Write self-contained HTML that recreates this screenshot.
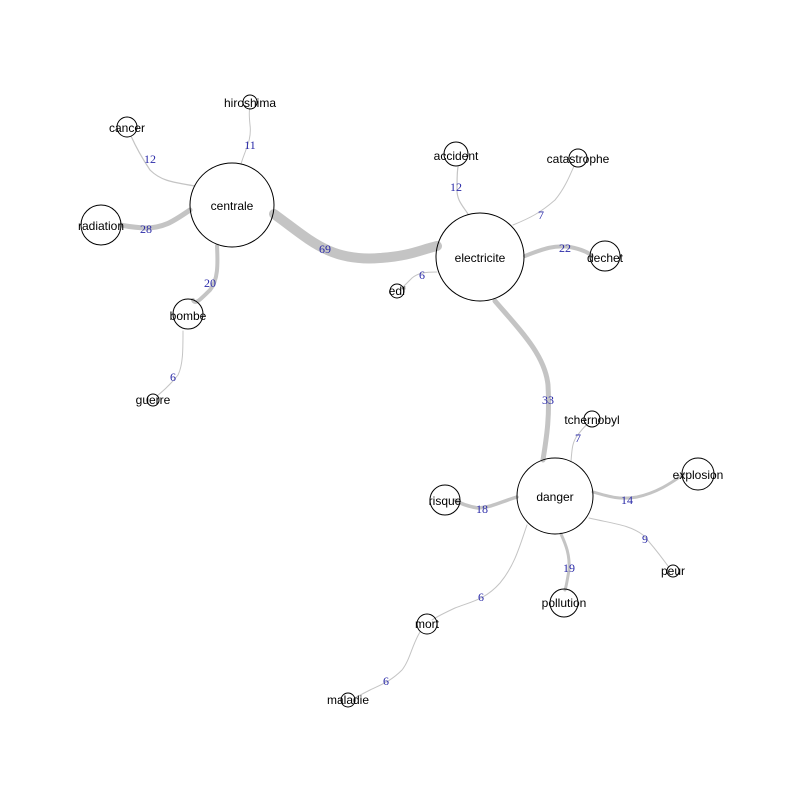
<!DOCTYPE html>
<html><head><meta charset="utf-8"><style>
html,body{margin:0;padding:0;background:#fff;}
svg text{font-family:"Liberation Sans",Arial,sans-serif;}
.n{fill:none;stroke:#000;stroke-width:1}
.e{fill:none;stroke:#c4c4c4;stroke-linecap:round}
.l{font-size:12px;fill:#000;text-anchor:middle}
.w{font-family:"Liberation Serif",serif !important;font-size:12px;fill:#2a2aa8;text-anchor:middle}
</style></head><body>
<svg width="800" height="800" viewBox="0 0 800 800" xmlns="http://www.w3.org/2000/svg">
<rect width="800" height="800" fill="#fff"/>
<!-- edges -->
<path class="e" stroke-width="10" d="M274,214 C310,240 330,262 380,258 C410,256 420,250 437,246"/>
<path class="e" stroke-width="1" d="M241,164 C245,150 252,140 250,125 C249,115 249,110 250,108"/>
<path class="e" stroke-width="1.2" d="M195,186 C170,182 160,180 150,170 C140,155 135,145 131,136"/>
<path class="e" stroke-width="5" d="M190,210 C175,220 165,228 145,228 C130,227 125,226 121,225"/>
<path class="e" stroke-width="4" d="M217,246 C218,265 218,280 210,290 C200,300 195,305 193,300"/>
<path class="e" stroke-width="1" d="M183,331 C183,350 183,365 178,375 C170,385 162,392 157,396"/>
<path class="e" stroke-width="1.2" d="M468,214 C462,205 457,200 457,190 C457,180 457,172 458,167"/>
<path class="e" stroke-width="1" d="M513,225 C530,218 540,213 555,200 C565,188 570,175 574,166"/>
<path class="e" stroke-width="4" d="M525,256 C545,248 555,245 570,247 C585,250 590,254 592,256"/>
<path class="e" stroke-width="1" d="M437,272 C425,272 418,273 412,278 C406,284 402,288 401,289"/>
<path class="e" stroke-width="5" d="M495,301 C520,330 545,355 548,385 C550,420 546,440 543,460"/>
<path class="e" stroke-width="1" d="M571,461 C572,450 572,443 577,436 C583,428 587,424 589,423"/>
<path class="e" stroke-width="3" d="M593,492 C610,497 620,500 637,497 C660,492 675,480 684,474"/>
<path class="e" stroke-width="3.5" d="M517,497 C500,502 493,507 478,508 C465,506 458,502 455,500"/>
<path class="e" stroke-width="1" d="M589,518 C615,524 630,525 643,535 C655,548 662,558 668,566"/>
<path class="e" stroke-width="3" d="M561,534 C566,545 570,555 569,570 C567,582 566,588 565,590"/>
<path class="e" stroke-width="1" d="M527,525 C520,545 515,565 500,583 C485,600 470,602 455,608 C440,615 435,618 432,620"/>
<path class="e" stroke-width="1" d="M420,632 C412,645 410,660 402,670 C390,682 380,685 370,690 C360,695 355,698 353,699"/>
<!-- nodes -->
<circle class="n" cx="232" cy="205" r="42"/>
<circle class="n" cx="480" cy="257" r="44"/>
<circle class="n" cx="555" cy="496" r="38"/>
<circle class="n" cx="250" cy="102" r="7"/>
<circle class="n" cx="127" cy="127" r="10"/>
<circle class="n" cx="101" cy="225" r="20"/>
<circle class="n" cx="188" cy="314" r="15"/>
<circle class="n" cx="153" cy="400" r="6"/>
<circle class="n" cx="456" cy="154" r="12"/>
<circle class="n" cx="578" cy="158" r="9"/>
<circle class="n" cx="605" cy="256" r="15"/>
<circle class="n" cx="397" cy="291" r="7"/>
<circle class="n" cx="592" cy="419" r="8"/>
<circle class="n" cx="698" cy="474" r="16"/>
<circle class="n" cx="445" cy="500" r="15"/>
<circle class="n" cx="673" cy="571" r="6"/>
<circle class="n" cx="564" cy="603" r="14"/>
<circle class="n" cx="427" cy="624" r="10"/>
<circle class="n" cx="348" cy="700" r="7"/>
<!-- node labels -->
<text class="l" x="232" y="210">centrale</text>
<text class="l" x="480" y="262">electricite</text>
<text class="l" x="555" y="501">danger</text>
<text class="l" x="250" y="107">hiroshima</text>
<text class="l" x="127" y="132">cancer</text>
<text class="l" x="101" y="230">radiation</text>
<text class="l" x="188" y="320">bombe</text>
<text class="l" x="153" y="404">guerre</text>
<text class="l" x="456" y="160">accident</text>
<text class="l" x="578" y="163">catastrophe</text>
<text class="l" x="605" y="262">dechet</text>
<text class="l" x="397" y="295">edf</text>
<text class="l" x="592" y="424">tchernobyl</text>
<text class="l" x="698" y="479">explosion</text>
<text class="l" x="445" y="505">risque</text>
<text class="l" x="673" y="575">peur</text>
<text class="l" x="564" y="607">pollution</text>
<text class="l" x="427" y="628">mort</text>
<text class="l" x="348" y="704">maladie</text>
<!-- weights -->
<text class="w" x="325" y="253">69</text>
<text class="w" x="250" y="149">11</text>
<text class="w" x="150" y="163">12</text>
<text class="w" x="146" y="233">28</text>
<text class="w" x="210" y="287">20</text>
<text class="w" x="173" y="381">6</text>
<text class="w" x="456" y="191">12</text>
<text class="w" x="541" y="219">7</text>
<text class="w" x="565" y="252">22</text>
<text class="w" x="422" y="279">6</text>
<text class="w" x="548" y="404">33</text>
<text class="w" x="578" y="442">7</text>
<text class="w" x="627" y="504">14</text>
<text class="w" x="482" y="513">18</text>
<text class="w" x="645" y="543">9</text>
<text class="w" x="569" y="572">19</text>
<text class="w" x="481" y="601">6</text>
<text class="w" x="386" y="685">6</text>
</svg>
</body></html>
